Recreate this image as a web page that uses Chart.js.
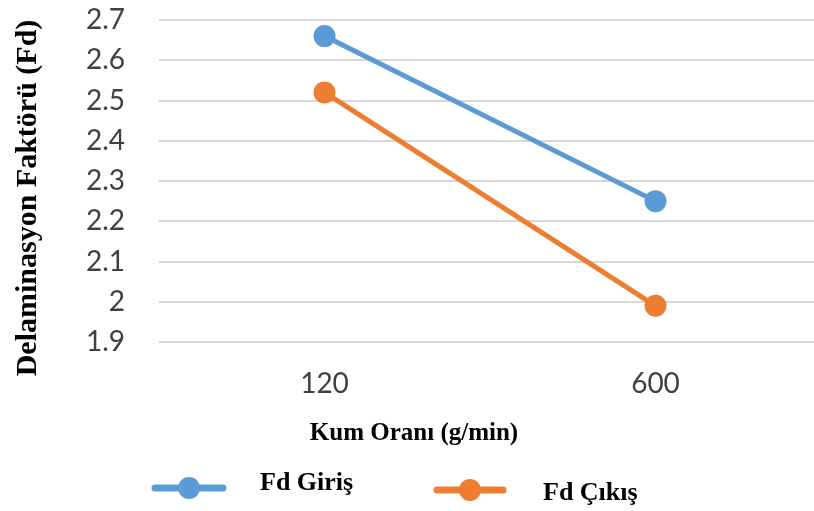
<!DOCTYPE html>
<html>
<head>
<meta charset="utf-8">
<script src="https://cdn.jsdelivr.net/npm/chart.js@4.4.1/dist/chart.umd.min.js"></script>
<style>
  html, body { margin: 0; padding: 0; background: #fff; overflow: hidden; }
  canvas { display: block; }
</style>
</head>
<body>
<!-- canvas a bit wider than the window: the Excel plot runs past the right edge -->
<canvas id="chart" width="832" height="511"></canvas>
<script>
var categories = ["120", "600"];
var seriesNames = ["Fd Giriş", "Fd Çıkış"];
var girisValues = [2.66, 2.25];
var cikisValues = [2.52, 1.99];
var yTickValues = [1.9, 2.0, 2.1, 2.2, 2.3, 2.4, 2.5, 2.6, 2.7];
var xTitle = "Kum Oranı (g/min)";
var yTitle = "Delaminasyon Faktörü (Fd)";

var seriesColors = ["#5b9bd5", "#ed7d31"];

// axis titles + legend drawn by hand, Excel puts them off-centre
var overlayText = {
  id: "overlayText",
  afterDraw: function (chart) {
    var ctx = chart.ctx;
    ctx.save();
    ctx.fillStyle = "#000";
    ctx.textAlign = "center";
    ctx.textBaseline = "middle";
    ctx.font = "bold 25px 'Liberation Serif'";
    ctx.fillText(xTitle, 414, 434);

    ctx.save();
    ctx.translate(28, 198);
    ctx.rotate(-Math.PI / 2);
    ctx.font = "bold 30px 'Liberation Serif'";
    ctx.fillText(yTitle, 0, 0);
    ctx.restore();

    var legendSpots = [
      { x1: 155, x2: 223, y: 488, tx: 260, ty: 483 },
      { x1: 437, x2: 503, y: 490, tx: 543, ty: 493 },
    ];
    ctx.textAlign = "left";
    ctx.font = "bold 26px 'Liberation Serif'";
    legendSpots.forEach(function (s, i) {
      ctx.strokeStyle = seriesColors[i];
      ctx.fillStyle = seriesColors[i];
      ctx.lineWidth = 7;
      ctx.lineCap = "round";
      ctx.beginPath();
      ctx.moveTo(s.x1, s.y);
      ctx.lineTo(s.x2, s.y);
      ctx.stroke();
      ctx.beginPath();
      ctx.arc((s.x1 + s.x2) / 2, s.y, 11, 0, Math.PI * 2);
      ctx.fill();
      ctx.fillStyle = "#000";
      ctx.fillText(seriesNames[i], s.tx, s.ty);
    });
    ctx.restore();
  },
};

var config = {
  type: "line",
  data: {
    labels: categories,
    datasets: [
      {
        label: seriesNames[0],
        data: girisValues,
        borderColor: seriesColors[0],
        backgroundColor: seriesColors[0],
        borderWidth: 5,
        pointRadius: 11,
        pointBorderWidth: 0,
      },
      {
        label: seriesNames[1],
        data: cikisValues,
        borderColor: seriesColors[1],
        backgroundColor: seriesColors[1],
        borderWidth: 5,
        pointRadius: 11,
        pointBorderWidth: 0,
      },
    ],
  },
  options: {
    responsive: false,
    animation: false,
    layout: { padding: 0 },
    plugins: {
      legend: { display: false },
      tooltip: { enabled: false },
    },
    scales: {
      x: {
        offset: true,
        grid: { display: false, drawTicks: false },
        border: { display: false },
        ticks: {
          color: "#404040",
          font: { family: "Lato", size: 28 },
          padding: 25,
        },
        afterFit: function (scale) {
          scale.height = 169;
          scale.paddingLeft = 0;
          scale.paddingRight = 0;
        },
      },
      y: {
        min: 1.9,
        max: 2.7,
        grid: { color: "#d9d9d9", lineWidth: 2, drawTicks: false },
        border: { display: false },
        ticks: {
          color: "#404040",
          font: { family: "Lato", size: 28 },
          padding: 34,
          autoSkip: false,
          callback: function (v) {
            return String(+v.toFixed(1));
          },
        },
        afterBuildTicks: function (scale) {
          scale.ticks = yTickValues.map(function (v) {
            return { value: v };
          });
        },
        afterFit: function (scale) {
          scale.width = 159;
          scale.paddingTop = 20;
          scale.paddingBottom = 0;
        },
      },
    },
  },
  plugins: [overlayText],
};

myChart = new Chart(document.getElementById("chart"), config);
</script>
</body>
</html>
